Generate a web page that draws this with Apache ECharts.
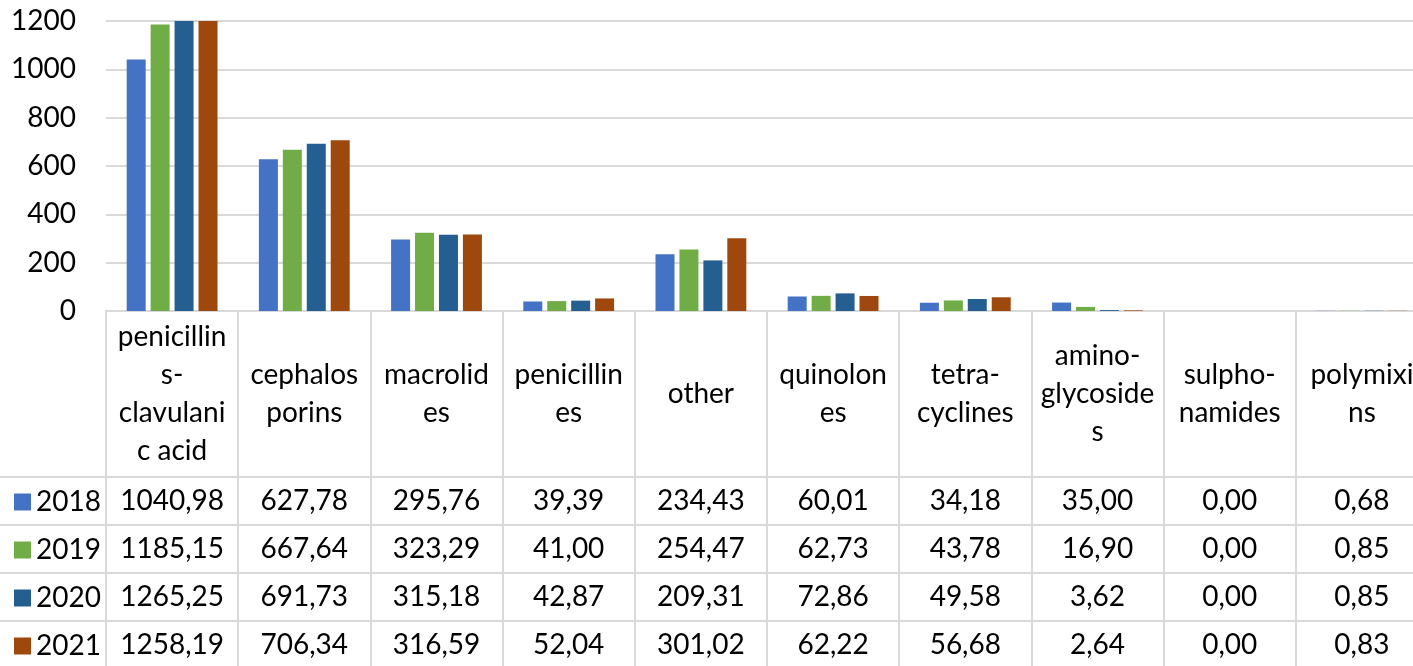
<!DOCTYPE html>
<html>
<head>
<meta charset="utf-8">
<script src="https://cdn.jsdelivr.net/npm/echarts@6/dist/echarts.min.js"></script>
<style>
  html, body { margin: 0; padding: 0; background: #fff; }
  #chart { width: 1413px; height: 666px; }
</style>
</head>
<body>
<div id="chart"></div>
<script>
// categories (as named in the data) and their wrapped header labels
var categories = ['penicillins-clavulanic acid', 'cephalosporins', 'macrolides', 'penicillines', 'other',
  'quinolones', 'tetra-cyclines', 'amino-glycosides', 'sulpho-namides', 'polymixins']
var headerLabels = ['penicillin\ns-\nclavulani\nc acid', 'cephalos\nporins', 'macrolid\nes', 'penicillin\nes', 'other',
  'quinolon\nes', 'tetra-\ncyclines', 'amino-\nglycoside\ns', 'sulpho-\nnamides', 'polymixi\nns']

var years = ['2018', '2019', '2020', '2021']
var colors = ['#4472C4', '#70AD47', '#255E91', '#9E480E']

var values2018 = [1040.98, 627.78, 295.76, 39.39, 234.43, 60.01, 34.18, 35.00, 0.00, 0.68]
var values2019 = [1185.15, 667.64, 323.29, 41.00, 254.47, 62.73, 43.78, 16.90, 0.00, 0.85]
var values2020 = [1265.25, 691.73, 315.18, 42.87, 209.31, 72.86, 49.58, 3.62, 0.00, 0.85]
var values2021 = [1258.19, 706.34, 316.59, 52.04, 301.02, 62.22, 56.68, 2.64, 0.00, 0.83]

var yTicks = [0, 200, 400, 600, 800, 1000, 1200]

var rows = [values2018, values2019, values2020, values2021]

var FONT = 'Lato'
var LINE = '#D9D9D9'
var gridLeft = 106, gridTop = 21, gridBottom = 355   // plot bottom at y=311
var headerH = 166, rowH = 48
var plotBottom = 666 - gridBottom

function fmt (v) {
  return v.toFixed(2).replace('.', ',')
}

var xAxes = [{
  type: 'category',
  data: categories,
  position: 'bottom',
  axisLine: { show: true, lineStyle: { color: LINE, width: 2 } },
  axisTick: { show: true, interval: 0, length: gridBottom, lineStyle: { color: LINE, width: 2 } },
  axisLabel: {
    interval: 0,
    margin: headerH / 2,
    verticalAlign: 'middle',
    fontFamily: FONT,
    fontSize: 28,
    lineHeight: 38,
    color: '#000',
    formatter: function (v, i) { return headerLabels[i] }
  }
}]

rows.forEach(function (row, k) {
  xAxes.push({
    type: 'category',
    data: categories,
    position: 'bottom',
    offset: headerH + rowH * k,
    axisLine: { show: true, lineStyle: { color: LINE, width: 2 } },
    axisTick: { show: false },
    splitLine: { show: false },
    axisLabel: {
      interval: 0,
      margin: rowH / 2,
      verticalAlign: 'middle',
      fontFamily: FONT,
      fontSize: 28,
      color: '#000',
      formatter: function (v, i) { return fmt(row[i]) }
    }
  })
})

// left part of the table's row borders (under the legend keys)
var leftLines = rows.map(function (r, k) {
  var y = plotBottom + headerH + rowH * k
  return {
    type: 'line',
    shape: { x1: 0, y1: y, x2: gridLeft, y2: y },
    style: { stroke: LINE, lineWidth: 2 }
  }
})

// one legend per table row, used as the row header
var legends = years.map(function (y, k) {
  return {
    data: [y],
    orient: 'horizontal',
    left: 9,
    top: plotBottom + headerH + rowH * k + rowH / 2 - 19,
    itemWidth: 17,
    itemHeight: 17,
    icon: 'rect',
    selectedMode: false,
    textStyle: { fontFamily: FONT, fontSize: 28, lineHeight: 30, color: '#000' }
  }
})

var option = {
  animation: false,
  color: colors,
  grid: { left: gridLeft, top: gridTop, width: 1322, bottom: gridBottom, outerBoundsMode: 'none', containLabel: false },
  legend: legends,
  xAxis: xAxes,
  yAxis: {
    type: 'value',
    min: yTicks[0],
    max: yTicks[yTicks.length - 1],
    interval: 200,
    axisLine: { show: false },
    axisTick: { show: false },
    splitLine: { lineStyle: { color: LINE, width: 2 } },
    axisLabel: {
      margin: 30, fontFamily: FONT, fontSize: 28, color: '#000',
      formatter: function (v) { return String(v) }
    }
  },
  graphic: leftLines,
  series: rows.map(function (row, k) {
    return {
      name: years[k],
      type: 'bar',
      data: row,
      barWidth: 19,
      barGap: '26%',
      clip: true,
      itemStyle: { color: colors[k] }
    }
  })
}

var myChart = echarts.init(document.getElementById('chart'))
myChart.setOption(option)
</script>
</body>
</html>
